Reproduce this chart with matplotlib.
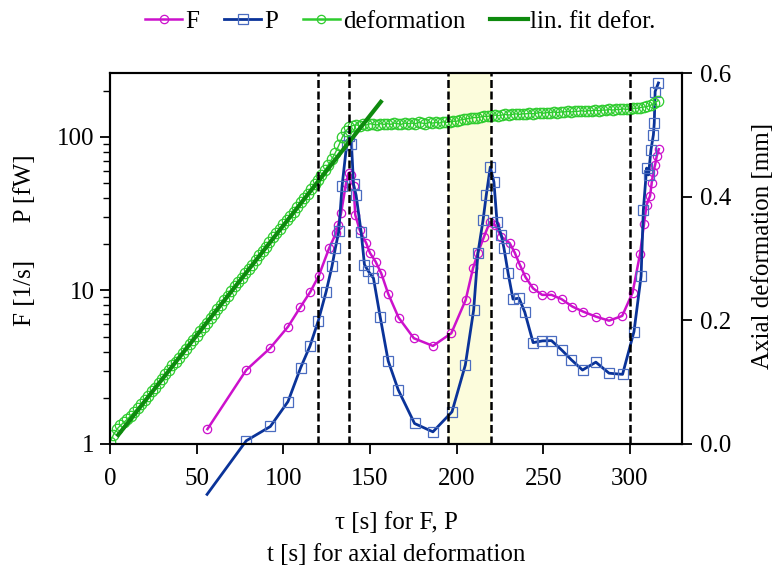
import numpy as np
import matplotlib
matplotlib.use('Agg')
import matplotlib.pyplot as plt
from matplotlib.lines import Line2D
from matplotlib.ticker import FixedLocator, NullFormatter, FuncFormatter, LogLocator

plt.rcParams['font.family'] = ['Liberation Serif', 'DejaVu Serif']
plt.rcParams['font.size'] = 18

# ---------------- data ----------------
f_tau = [56.2, 78.6, 92.3, 102.7, 109.8, 115.6, 120.4, 126.4, 130.4, 131.6, 133.3, 136.2,
         137.7, 139.2, 140.5, 141.5, 144.0, 147.8, 150.0, 153.2, 156.5, 160.5, 166.5, 175.3,
         186.3, 196.9, 205.2, 209.4, 212.3, 215.8, 219.1, 222.0, 225.8, 230.6, 233.5, 236.4,
         239.7, 244.1, 249.3, 254.7, 260.5, 266.8, 273.0, 280.3, 287.9, 295.5, 301.5, 305.8,
         308.1, 309.6, 311.6, 312.5, 313.5, 314.5, 315.4, 316.6]
f_val = [1.25, 3.03, 4.2, 5.8, 7.77, 9.8, 12.4, 18.8, 23.6, 26.7, 31.8, 49.9,
         58.0, 56.0, 47.5, 31.0, 24.8, 20.3, 17.5, 15.4, 12.9, 9.5, 6.65, 4.88,
         4.35, 5.26, 8.67, 13.9, 17.6, 22.4, 27.8, 26.7, 22.4, 20.3, 17.6, 14.7,
         12.2, 10.3, 9.35, 9.35, 8.77, 7.84, 7.27, 6.75, 6.35, 6.82, 9.68, 17.3,
         27.1, 36.1, 41.3, 49.9, 59.4, 65.7, 74.5, 83.0]

p_tau = [56.0, 78.6, 92.5, 102.7, 110.0, 115.4, 120.2, 124.7, 128.1, 130.0, 132.0, 133.9,
         136.5, 138.0, 139.3, 140.5, 142.0, 144.9, 146.8, 149.1, 152.0, 155.9, 160.5, 166.3,
         175.7, 186.3, 197.3, 205.0, 209.8, 212.3, 215.2, 217.1, 219.4, 221.5, 223.3, 225.8,
         227.3, 229.7, 232.5, 236.0, 239.3, 244.1, 249.5, 254.7, 260.5, 266.2, 272.6, 280.3,
         287.9, 295.7, 302.3, 306.4, 307.7, 309.6, 310.7, 312.1, 313.5, 314.0, 314.5, 316.4]
p_val = [0.47, 1.05, 1.3, 1.89, 3.14, 4.35, 6.36, 9.82, 14.4, 18.8, 24.2, 48.0,
         88.0, 101.0, 90.0, 49.0, 41.5, 23.9, 14.7, 13.3, 12.0, 6.69, 3.47, 2.25,
         1.36, 1.2, 1.62, 3.27, 7.46, 17.6, 28.5, 41.9, 63.5, 50.7, 27.7, 22.8,
         18.8, 12.9, 8.77, 8.9, 7.21, 4.57, 4.69, 4.71, 4.1, 3.53, 3.03, 3.41,
         2.89, 2.84, 5.39, 12.4, 33.4, 62.5, 56.5, 82.3, 103.0, 123.0, 197.0, 224.0]

def_t = np.arange(0, 317, 2)  # sampling times of axial deformation [s]
def_val = [0.003, 0.015, 0.024, 0.030, 0.035, 0.040, 0.046, 0.052, 0.058, 0.064,
           0.071, 0.078, 0.085, 0.091, 0.098, 0.105, 0.113, 0.119, 0.127, 0.133,
           0.139, 0.147, 0.154, 0.161, 0.169, 0.175, 0.182, 0.190, 0.196, 0.204,
           0.211, 0.219, 0.225, 0.233, 0.240, 0.247, 0.255, 0.262, 0.268, 0.276,
           0.283, 0.290, 0.298, 0.305, 0.312, 0.319, 0.327, 0.334, 0.341, 0.348,
           0.355, 0.362, 0.369, 0.376, 0.384, 0.391, 0.398, 0.405, 0.413, 0.420,
           0.427, 0.435, 0.443, 0.452, 0.461, 0.471, 0.483, 0.496, 0.506, 0.512,
           0.515, 0.516, 0.515, 0.517, 0.516, 0.518, 0.517, 0.516, 0.518, 0.517,
           0.518, 0.517, 0.519, 0.518, 0.517, 0.519, 0.518, 0.519, 0.518, 0.520,
           0.519, 0.518, 0.520, 0.519, 0.520, 0.519, 0.521, 0.520, 0.521, 0.522,
           0.522, 0.524, 0.525, 0.526, 0.527, 0.528, 0.528, 0.529, 0.530, 0.530,
           0.531, 0.532, 0.531, 0.532, 0.533, 0.532, 0.533, 0.534, 0.533, 0.534,
           0.534, 0.535, 0.534, 0.535, 0.536, 0.535, 0.536, 0.536, 0.537, 0.536,
           0.537, 0.537, 0.538, 0.537, 0.538, 0.538, 0.539, 0.538, 0.539, 0.539,
           0.540, 0.539, 0.540, 0.540, 0.541, 0.540, 0.541, 0.541, 0.542, 0.541,
           0.542, 0.543, 0.543, 0.544, 0.545, 0.546, 0.548, 0.551, 0.555]

fit_t = [4.0, 157.0]
fit_val = [0.012, 0.556]

event_t = [120, 138, 195, 220, 300]
span_t = [195, 220]

x_ticks = [0, 50, 100, 150, 200, 250, 300]
right_ticks = [0.0, 0.2, 0.4, 0.6]

# ---------------- style ----------------
c_f = '#cc11cc'
c_p_line = '#0a3399'
c_p_mark = '#4a6cc0'
c_def = '#2ecc2e'
c_fit = '#0e8a0e'

fig = plt.figure(figsize=(7.77, 5.68), dpi=100)
ax = fig.add_axes([110 / 777, 1 - 444 / 568, 572 / 777, 371 / 568])
ax.set_yscale('log')
ax.set_xlim(0, 330)
ax.set_ylim(1, 260)

ax.axvspan(span_t[0], span_t[1], color='#fcfcdc', zorder=0, lw=0)

# F
ax.plot(f_tau, f_val, color=c_f, lw=1.8, zorder=3)
ax.plot(f_tau, f_val, ls='none', marker='o', ms=6, mfc='none', mec=c_f, mew=0.9, zorder=3)
# P (line continues below the axis)
ax.plot(p_tau, p_val, color=c_p_line, lw=2.0, zorder=3, clip_on=False)
ax.plot(p_tau, p_val, ls='none', marker='s', ms=6.5, mfc='none', mec=c_p_mark, mew=0.9, zorder=3)

ax.set_xticks(x_ticks)
ax.yaxis.set_major_locator(FixedLocator([1, 10, 100]))
ax.yaxis.set_major_formatter(FuncFormatter(lambda v, p: '%g' % v))
ax.yaxis.set_minor_locator(LogLocator(base=10, subs=np.arange(2, 10)))
ax.yaxis.set_minor_formatter(NullFormatter())
ax.tick_params(axis='both', which='major', direction='out', length=7, width=1.3)
ax.tick_params(axis='y', which='minor', direction='out', length=5, width=1.0)
ax.tick_params(axis='x', pad=10)
ax.tick_params(axis='y', pad=4)
for s in ax.spines.values():
    s.set_linewidth(1.5)

ax.set_ylabel('F [1/s]      P [fW]')
ax.yaxis.set_label_coords(-0.13, 0.55)
ax.set_xlabel('τ [s] for F, P\nt [s] for axial deformation', linespacing=1.6, labelpad=16)

# deformation on secondary axis
ax2 = ax.twinx()
ax2.set_ylim(0, 0.6)
ax2.set_yticks(right_ticks)
ax2.yaxis.set_major_formatter(FuncFormatter(lambda v, p: '%.1f' % v))
ax2.tick_params(axis='y', direction='out', length=7, width=1.3, pad=6)
for s in ax2.spines.values():
    s.set_linewidth(1.5)
ax2.plot(def_t, def_val, color=c_def, lw=1.0, zorder=2)
ax2.plot(def_t, def_val, ls='none', marker='o', ms=7.5, mfc='none', mec=c_def, mew=0.9, zorder=2)
ax2.plot(fit_t, fit_val, color=c_fit, lw=3.0, zorder=4, solid_capstyle='butt')
for t in event_t:
    ax2.axvline(t, color='black', lw=1.8, ls=(0, (3.2, 1.4)), zorder=6)

ax2.set_ylabel('Axial deformation [mm]')
ax2.yaxis.set_label_coords(1.123, 0.535)

# legend
handles = [
    Line2D([], [], color=c_f, lw=1.8, marker='o', ms=6, mfc='none', mec=c_f, mew=0.9),
    Line2D([], [], color=c_p_line, lw=2.0, marker='s', ms=6.5, mfc='none', mec=c_p_mark, mew=0.9),
    Line2D([], [], color=c_def, lw=1.8, marker='o', ms=6, mfc='none', mec=c_def, mew=0.9),
    Line2D([], [], color=c_fit, lw=3.0),
]
labels = ['F', 'P', 'deformation', 'lin. fit defor.']
fig.legend(handles, labels, loc='center', bbox_to_anchor=(0.515, 0.962), ncol=4,
           frameon=False, handlelength=1.5, handletextpad=0.1, columnspacing=1.0,
           borderaxespad=0)

fig.savefig('out.png', dpi=100)
